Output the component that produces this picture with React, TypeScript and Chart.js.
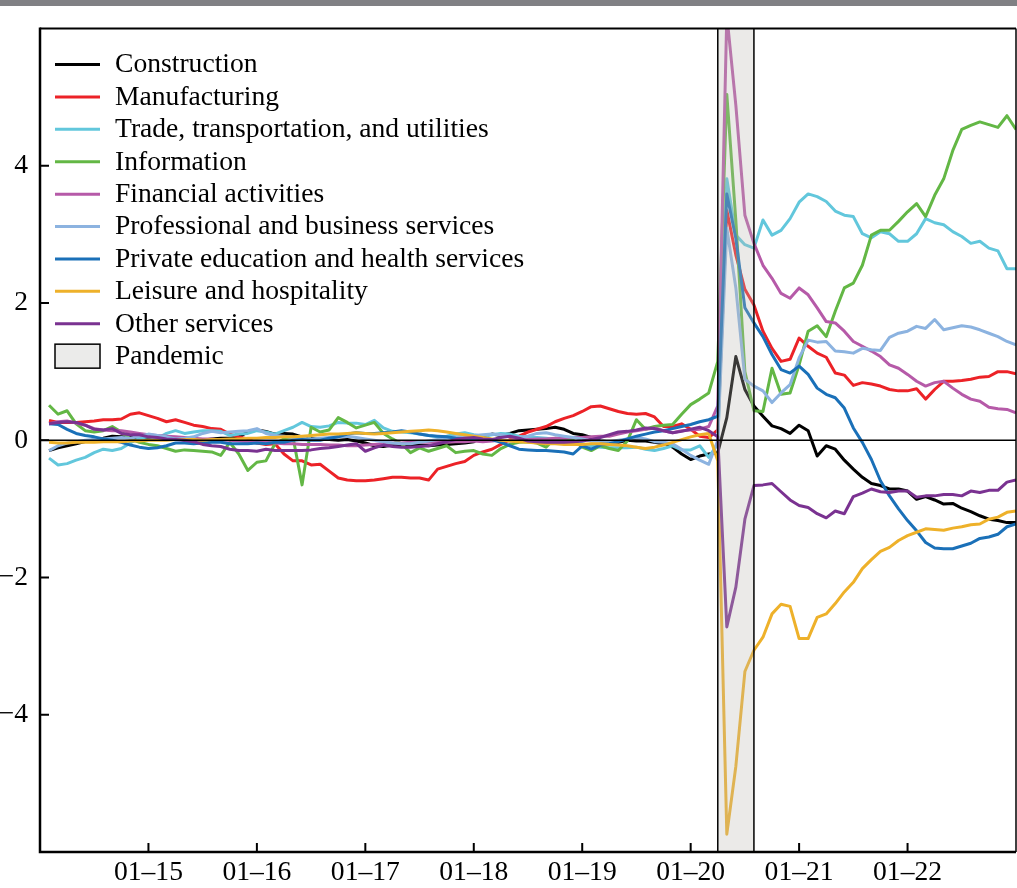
import React, { useEffect, useRef } from "react";
import { Chart, registerables } from "chart.js";

Chart.register(...registerables);

// months counted from Jan 2014 (0); first observation is month 1
const START_MONTH = 1;
const X_MIN = 0;
const X_MAX = 108;
const X_TICK_MONTHS = [12, 24, 36, 48, 60, 72, 84, 96];
const X_TICK_LABELS = ["01–15", "01–16", "01–17", "01–18", "01–19", "01–20", "01–21", "01–22"];
const Y_MIN = -6;
const Y_MAX = 6;
const Y_TICK_VALUES = [-4, -2, 0, 2, 4];
const Y_TICK_LABELS = ["−4", "−2", "0", "2", "4"];
const PANDEMIC_START = 75;
const PANDEMIC_END = 79;
const PANDEMIC_LABEL = "Pandemic";

const SERIES_NAMES = [
  "Construction",
  "Manufacturing",
  "Trade, transportation, and utilities",
  "Information",
  "Financial activities",
  "Professional and business services",
  "Private education and health services",
  "Leisure and hospitality",
  "Other services",
];
const SERIES_COLORS = [
  "#000000",
  "#ec2227",
  "#62c7dc",
  "#63b745",
  "#b65aa8",
  "#8cb3e0",
  "#1a70b8",
  "#eeb12a",
  "#7a3291",
];

const construction = [
  -0.15, -0.11, -0.08, -0.05, -0.02, 0.01, 0.03, 0.06, 0.05, 0.04,
  0.04, 0.04, 0.05, 0.06, 0.03, 0.0, 0.01, 0.0, 0.02, 0.03,
  0.03, 0.05, 0.12, 0.15, 0.13, 0.09, 0.1, 0.09, 0.05, 0.03,
  0.01, 0.01, 0.0, 0.01, -0.01, -0.04, -0.08, -0.09, -0.07, -0.06,
  -0.06, -0.07, -0.08, -0.07, -0.06, -0.05, -0.04, -0.02, 0.06, 0.09,
  0.07, 0.1, 0.14, 0.15, 0.16, 0.17, 0.19, 0.16, 0.1, 0.08,
  0.04, -0.01, -0.02, -0.03, 0.0, -0.01, -0.01, -0.03, -0.05, -0.1,
  -0.2, -0.28, -0.23, -0.2, -0.18, 0.33, 1.22, 0.74, 0.5, 0.35,
  0.21, 0.17, 0.1, 0.22, 0.14, -0.23, -0.08, -0.13, -0.29, -0.42,
  -0.54, -0.63, -0.66, -0.71, -0.71, -0.74, -0.86, -0.82, -0.87, -0.93,
  -0.92, -0.99, -1.04, -1.1, -1.15, -1.17, -1.2, -1.2,
];
const manufacturing = [
  0.29, 0.26, 0.26, 0.26, 0.27, 0.28, 0.3, 0.3, 0.31, 0.38,
  0.4, 0.36, 0.32, 0.27, 0.3, 0.26, 0.22, 0.2, 0.17, 0.16,
  0.09, 0.05, 0.02, -0.04, -0.06, -0.05, -0.2, -0.3, -0.3, -0.36,
  -0.35, -0.45, -0.55, -0.58, -0.59, -0.59, -0.58, -0.56, -0.54, -0.54,
  -0.55, -0.55, -0.58, -0.42, -0.38, -0.34, -0.31, -0.22, -0.17, -0.13,
  -0.06, 0.01, 0.06, 0.12, 0.16, 0.2, 0.27, 0.32, 0.36, 0.42,
  0.49, 0.5, 0.46, 0.42, 0.39, 0.38, 0.39, 0.34, 0.2, 0.2,
  0.24, 0.16, 0.06, 0.04, 0.15, 3.35, 2.7, 2.2, 1.97, 1.59,
  1.34, 1.15, 1.18, 1.49, 1.37, 1.27, 1.21, 0.98, 0.95, 0.8,
  0.84, 0.82, 0.79, 0.74, 0.72, 0.72, 0.75, 0.6, 0.74, 0.86,
  0.86, 0.87, 0.89, 0.92, 0.93, 1.0, 1.0, 0.97,
];
const trade = [
  -0.26, -0.36, -0.34, -0.29, -0.25, -0.18, -0.13, -0.15, -0.12, -0.04,
  0.03, 0.05, 0.03, 0.1, 0.14, 0.1, 0.12, 0.14, 0.14, 0.13,
  0.07, 0.09, 0.1, 0.14, 0.12, 0.09, 0.14, 0.19, 0.26, 0.2,
  0.19, 0.21, 0.26, 0.25, 0.25, 0.23, 0.29, 0.18, 0.13, 0.12,
  0.11, 0.09, 0.07, 0.05, 0.06, 0.09, 0.11, 0.08, 0.06, 0.08,
  0.1, 0.09, 0.06, 0.04, 0.04, 0.03, 0.01, -0.01, -0.03, -0.05,
  -0.08, -0.1, -0.11, -0.11, -0.11, -0.1, -0.13, -0.15, -0.12, -0.08,
  -0.14, -0.14, -0.08, -0.25, -0.05, 3.81, 2.99, 2.85, 2.8, 3.21,
  2.99, 3.06, 3.23, 3.47, 3.59, 3.55, 3.48, 3.34, 3.28, 3.26,
  3.01, 2.95, 3.04, 3.01, 2.9, 2.9, 3.01, 3.23, 3.17, 3.14,
  3.04, 2.97, 2.87, 2.9, 2.8, 2.76, 2.5, 2.5,
];
const information = [
  0.51, 0.38, 0.43, 0.24, 0.14, 0.12, 0.14, 0.2, 0.12, 0.02,
  -0.03, -0.06, -0.08, -0.12, -0.16, -0.14, -0.15, -0.16, -0.17, -0.22,
  -0.03, -0.2, -0.44, -0.32, -0.3, -0.05, 0.02, 0.04, -0.65, 0.19,
  0.12, 0.15, 0.33, 0.26, 0.18, 0.22, 0.26, 0.1, 0.02, -0.05,
  -0.18, -0.11, -0.16, -0.12, -0.08, -0.18, -0.16, -0.15, -0.2, -0.22,
  -0.12, -0.06, -0.03, -0.02, -0.04, -0.1, 0.03, 0.02, 0.0, -0.1,
  -0.15, -0.08, -0.12, -0.15, -0.01, 0.3, 0.16, 0.2, 0.22, 0.23,
  0.38, 0.52, 0.6, 0.69, 1.15, 5.04, 3.2, 1.0, 0.43, 0.42,
  1.05, 0.67, 0.69, 1.1, 1.59, 1.67, 1.51, 1.88, 2.22, 2.29,
  2.55, 2.99, 3.06, 3.06, 3.19, 3.33, 3.45, 3.26, 3.57, 3.81,
  4.22, 4.53, 4.59, 4.64, 4.6, 4.56, 4.73, 4.53,
];
const financial = [
  0.24, 0.27, 0.28, 0.25, 0.22, 0.17, 0.15, 0.14, 0.14, 0.12,
  0.1, 0.08, 0.07, 0.06, 0.05, 0.04, 0.03, 0.02, 0.02, 0.0,
  0.0, -0.01, -0.02, -0.03, -0.03, -0.04, -0.05, -0.05, -0.06, -0.06,
  -0.06, -0.07, -0.07, -0.08, -0.08, -0.07, -0.06, -0.05, -0.04, -0.04,
  -0.03, -0.03, -0.03, -0.02, -0.03, -0.02, -0.02, -0.01, -0.02, -0.01,
  0.0, -0.01, 0.0, 0.01, 0.02, 0.02, 0.03, 0.03, 0.04, 0.04,
  0.05, 0.06, 0.06, 0.09, 0.12, 0.14, 0.16, 0.18, 0.14, 0.11,
  0.14, 0.15, 0.16, 0.2, 0.5, 6.2, 4.88, 3.28, 2.87, 2.55,
  2.36, 2.14, 2.07, 2.22, 2.12, 1.93, 1.73, 1.71, 1.59, 1.44,
  1.37, 1.3, 1.22, 1.1, 1.05, 0.96, 0.86, 0.79, 0.84, 0.86,
  0.76, 0.67, 0.6, 0.57, 0.48, 0.46, 0.45, 0.4,
];
const professional = [
  -0.15, -0.08, -0.04, -0.02, 0.0, 0.01, 0.02, 0.03, 0.04, 0.03,
  0.06, 0.09, 0.07, 0.05, 0.02, 0.03, 0.05, 0.1, 0.13, 0.11,
  0.12, 0.13, 0.14, 0.17, 0.1, 0.07, 0.06, 0.04, 0.03, 0.02,
  0.03, 0.04, 0.05, 0.06, 0.04, 0.02, 0.0, -0.02, -0.04, -0.05,
  -0.05, -0.03, -0.01, 0.01, 0.03, 0.05, 0.06, 0.07, 0.08, 0.09,
  0.08, 0.05, 0.04, 0.06, 0.1, 0.11, 0.08, 0.06, 0.04, 0.02,
  -0.01, -0.01, -0.02, 0.0, 0.02, 0.04, 0.02, -0.02, -0.03, -0.05,
  -0.13, -0.22, -0.29, -0.35, 0.0, 3.09, 2.22, 0.89, 0.79, 0.72,
  0.55, 0.69, 0.81, 1.2, 1.46, 1.43, 1.44, 1.3, 1.29, 1.27,
  1.34, 1.32, 1.31, 1.5, 1.56, 1.59, 1.66, 1.63, 1.76, 1.61,
  1.64, 1.67, 1.65, 1.61, 1.56, 1.51, 1.44, 1.39,
];
const privateEducation = [
  0.24, 0.23, 0.16, 0.1, 0.07, 0.05, 0.02, 0.0, -0.03, -0.07,
  -0.1, -0.12, -0.11, -0.08, -0.04, -0.04, -0.05, -0.04, -0.03, -0.03,
  -0.05, -0.05, -0.05, -0.04, -0.05, -0.03, -0.03, 0.0, 0.01, 0.0,
  0.0, 0.03, 0.05, 0.09, 0.11, 0.1, 0.1, 0.11, 0.12, 0.14,
  0.12, 0.09, 0.07, 0.06, 0.05, 0.03, 0.02, 0.02, 0.04, 0.01,
  -0.03, -0.08, -0.13, -0.14, -0.15, -0.15, -0.16, -0.17, -0.2, -0.08,
  -0.13, -0.07, -0.05, -0.02, 0.02, 0.06, 0.09, 0.12, 0.14, 0.17,
  0.2, 0.23, 0.27, 0.3, 0.35, 3.59, 2.94, 1.93, 1.71, 1.51,
  1.25, 1.03, 0.98, 1.08, 0.96, 0.76, 0.67, 0.62, 0.47, 0.18,
  -0.03, -0.28, -0.59, -0.81, -1.0, -1.17, -1.32, -1.49, -1.57, -1.58,
  -1.58, -1.54, -1.5, -1.43, -1.41, -1.37, -1.26, -1.22,
];
const leisure = [
  -0.03, -0.04, -0.04, -0.03, -0.03, -0.03, -0.02, -0.02, -0.02, -0.01,
  -0.01, 0.0, 0.0, 0.0, 0.01, 0.01, 0.01, 0.0, 0.01, 0.01,
  0.02, 0.02, 0.03, 0.03, 0.04, 0.04, 0.05, 0.05, 0.06, 0.07,
  0.08, 0.09, 0.09, 0.1, 0.11, 0.1, 0.09, 0.1, 0.11, 0.12,
  0.13, 0.14, 0.15, 0.14, 0.12, 0.1, 0.08, 0.06, 0.04, 0.02,
  0.0, -0.01, -0.02, -0.03, -0.04, -0.05, -0.05, -0.06, -0.06, -0.06,
  -0.05, -0.05, -0.06, -0.07, -0.08, -0.1, -0.12, -0.1, -0.07, -0.03,
  0.01, 0.05, 0.08, 0.1, -0.3, -5.74, -4.75, -3.37, -3.06, -2.87,
  -2.53, -2.39, -2.42, -2.89, -2.89, -2.58, -2.53, -2.38, -2.21, -2.07,
  -1.87, -1.74, -1.62, -1.56, -1.46, -1.39, -1.34, -1.29, -1.3, -1.31,
  -1.28, -1.26, -1.23, -1.22, -1.15, -1.12, -1.05, -1.03,
];
const otherServices = [
  0.24, 0.26, 0.27, 0.26, 0.22, 0.16, 0.15, 0.17, 0.1, 0.08,
  0.08, 0.05, 0.04, 0.02, 0.01, 0.0, -0.02, -0.06, -0.08, -0.09,
  -0.13, -0.15, -0.15, -0.16, -0.13, -0.15, -0.15, -0.15, -0.15, -0.14,
  -0.12, -0.11, -0.09, -0.07, -0.05, -0.16, -0.11, -0.07, -0.09, -0.1,
  -0.1, -0.09, -0.08, -0.05, -0.02, 0.01, 0.03, 0.04, 0.02, 0.01,
  0.04, 0.06, 0.03, -0.01, -0.02, -0.03, -0.03, -0.03, -0.02, -0.01,
  0.01, 0.04, 0.08, 0.12, 0.13, 0.15, 0.18, 0.17, 0.14, 0.11,
  0.13, 0.16, 0.19, 0.14, 0.05, -2.72, -2.14, -1.15, -0.66, -0.65,
  -0.63, -0.75, -0.87, -0.95, -0.98, -1.07, -1.13, -1.03, -1.07, -0.82,
  -0.77, -0.71, -0.75, -0.76, -0.74, -0.74, -0.83, -0.81, -0.81, -0.79,
  -0.79, -0.81, -0.74, -0.76, -0.73, -0.73, -0.61, -0.58,
];

const SERIES_VALUES = [
  construction,
  manufacturing,
  trade,
  information,
  financial,
  professional,
  privateEducation,
  leisure,
  otherServices,
];

const FONT_FAMILY = "'Liberation Serif', 'Times New Roman', Times, serif";
const FONT_SIZE = 27.6;

const decorPlugin = {
  id: "decor",
  afterDatasetsDraw(chart: any) {
    const { ctx, chartArea: a } = chart;
    const xs = chart.scales.x;
    const ys = chart.scales.y;
    ctx.save();
    // pandemic shading (semi-transparent, over the lines)
    const px0 = xs.getPixelForValue(PANDEMIC_START);
    const px1 = xs.getPixelForValue(PANDEMIC_END);
    ctx.fillStyle = "rgba(188,184,180,0.3)";
    ctx.fillRect(px0, a.top, px1 - px0, a.bottom - a.top);
    ctx.strokeStyle = "#000";
    ctx.lineWidth = 1.5;
    ctx.beginPath();
    ctx.moveTo(px0, a.top);
    ctx.lineTo(px0, a.bottom);
    ctx.moveTo(px1, a.top);
    ctx.lineTo(px1, a.bottom);
    ctx.stroke();
    // zero line
    const y0 = ys.getPixelForValue(0);
    ctx.lineWidth = 1.5;
    ctx.beginPath();
    ctx.moveTo(a.left, y0);
    ctx.lineTo(a.right, y0);
    ctx.stroke();
    // frame
    ctx.lineWidth = 2;
    ctx.beginPath();
    ctx.moveTo(a.left, a.top);
    ctx.lineTo(a.right, a.top);
    ctx.stroke();
    ctx.lineWidth = 1.5;
    ctx.beginPath();
    ctx.moveTo(a.right, a.top);
    ctx.lineTo(a.right, a.bottom);
    ctx.stroke();
    ctx.lineWidth = 2.5;
    ctx.beginPath();
    ctx.moveTo(a.left, a.top - 1);
    ctx.lineTo(a.left, a.bottom);
    ctx.lineTo(a.right, a.bottom);
    ctx.stroke();
    // inward tick marks
    ctx.lineWidth = 2;
    ctx.beginPath();
    xs.ticks.forEach((t: any) => {
      const px = xs.getPixelForValue(t.value);
      ctx.moveTo(px, a.bottom);
      ctx.lineTo(px, a.bottom - 9);
    });
    ys.ticks.forEach((t: any) => {
      const py = ys.getPixelForValue(t.value);
      ctx.moveTo(a.left, py);
      ctx.lineTo(a.left + 9, py);
    });
    ctx.stroke();
    ctx.restore();
  },
  afterDraw(chart: any) {
    const { ctx, chartArea: a } = chart;
    ctx.save();
    ctx.font = `${FONT_SIZE}px ${FONT_FAMILY}`;
    ctx.fillStyle = "#000";
    ctx.textAlign = "left";
    ctx.textBaseline = "alphabetic";
    const rowY = (i: number) => a.top + 36 + i * 32.4;
    const lineX0 = a.left + 15;
    const lineX1 = a.left + 60;
    const textX = a.left + 75;
    chart.data.datasets.forEach((ds: any, i: number) => {
      const y = rowY(i);
      ctx.strokeStyle = ds.borderColor;
      ctx.lineWidth = 3;
      ctx.beginPath();
      ctx.moveTo(lineX0, y);
      ctx.lineTo(lineX1, y);
      ctx.stroke();
      ctx.fillText(ds.label, textX, y + 7.8);
    });
    const n = chart.data.datasets.length;
    const yb = rowY(n);
    ctx.fillStyle = "#ebebea";
    ctx.fillRect(lineX0, yb - 12, lineX1 - lineX0, 24);
    ctx.strokeStyle = "#000";
    ctx.lineWidth = 1.5;
    ctx.strokeRect(lineX0, yb - 12, lineX1 - lineX0, 24);
    ctx.fillStyle = "#000";
    ctx.fillText(PANDEMIC_LABEL, textX, yb + 7.8);
    ctx.restore();
  },
};

export default function App() {
  const canvasRef = useRef<HTMLCanvasElement | null>(null);

  useEffect(() => {
    const canvas = canvasRef.current;
    if (!canvas) return;
    const n = SERIES_NAMES.length;
    const datasets = SERIES_NAMES.map((name, i) => ({
      label: name,
      data: SERIES_VALUES[i].map((v, j) => ({ x: START_MONTH + j, y: v })),
      borderColor: SERIES_COLORS[i],
      backgroundColor: SERIES_COLORS[i],
      borderWidth: 3,
      pointRadius: 0,
      tension: 0,
      borderJoinStyle: "round" as const,
      fill: false,
      order: n - i,
    }));
    const tickFont = { family: FONT_FAMILY, size: FONT_SIZE };
    const chart = new Chart(canvas, {
      type: "line",
      data: { datasets },
      options: {
        animation: false,
        responsive: false,
        devicePixelRatio: 1,
        layout: { padding: { top: 26, right: 1, left: 0, bottom: 0 } },
        plugins: { legend: { display: false }, tooltip: { enabled: false } },
        scales: {
          x: {
            type: "linear",
            min: X_MIN,
            max: X_MAX,
            grid: { display: false, drawTicks: false },
            border: { display: false },
            afterBuildTicks: (s: any) => {
              s.ticks = X_TICK_MONTHS.map((v) => ({ value: v }));
            },
            afterFit: (s: any) => {
              s.height = 36;
            },
            ticks: {
              autoSkip: false,
              maxRotation: 0,
              padding: 4,
              color: "#000",
              font: tickFont,
              callback: (v: any) => {
                const k = X_TICK_MONTHS.indexOf(Number(v));
                return k >= 0 ? X_TICK_LABELS[k] : "";
              },
            },
          },
          y: {
            type: "linear",
            min: Y_MIN,
            max: Y_MAX,
            grid: { display: false, drawTicks: false },
            border: { display: false },
            afterBuildTicks: (s: any) => {
              s.ticks = Y_TICK_VALUES.map((v) => ({ value: v }));
            },
            afterFit: (s: any) => {
              s.width = 40;
            },
            ticks: {
              autoSkip: false,
              padding: 12,
              color: "#000",
              font: tickFont,
              callback: (v: any) => {
                const k = Y_TICK_VALUES.indexOf(Number(v));
                return k >= 0 ? Y_TICK_LABELS[k] : "";
              },
            },
          },
        },
      },
      plugins: [decorPlugin],
    });
    return () => chart.destroy();
  }, []);

  return (
    <div style={{ position: "absolute", left: 0, top: 0, width: 1017, height: 888, background: "#fff" }}>
      <div style={{ position: "absolute", left: 0, top: 0, width: 1017, height: 6, background: "#808084" }} />
      <canvas ref={canvasRef} width={1017} height={888} style={{ display: "block", width: 1017, height: 888 }} />
    </div>
  );
}
